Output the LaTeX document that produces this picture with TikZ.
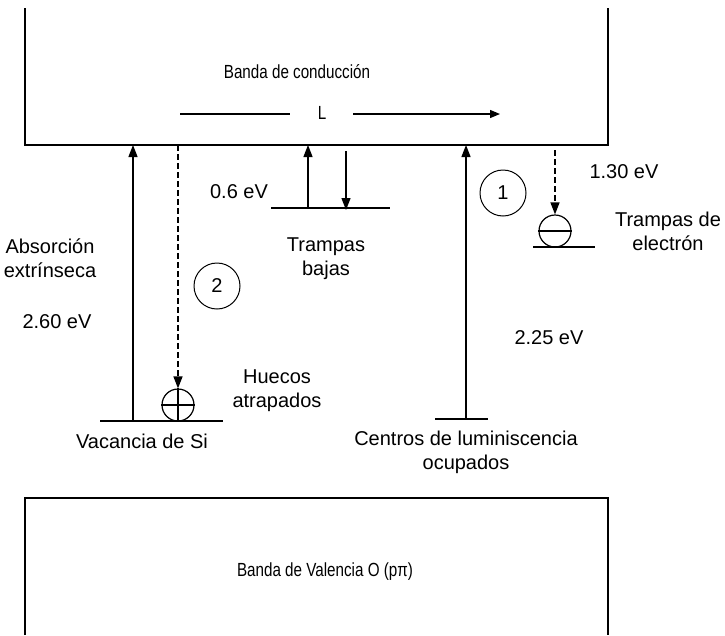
\documentclass[tikz,border=0pt]{standalone}
\usepackage{fontspec}
\setmainfont{Liberation Sans}
\newfontfamily\narrowfont[FakeStretch=0.8]{Liberation Sans}
\usetikzlibrary{arrows.meta}
\begin{document}
\begin{tikzpicture}[x=1pt,y=-1pt, line width=1.3pt,
  lbl/.style={font=\fontsize{20}{24}\selectfont, align=center, inner sep=0pt},
  bandlbl/.style={font=\narrowfont\fontsize{19}{22}\selectfont, inner sep=0pt},
  arr/.style={-{Triangle[length=12pt,width=9pt]}},
  dsh/.style={dash pattern=on 6pt off 3pt},
  num/.style={circle, draw, minimum size=46pt, inner sep=0pt, line width=1pt, font=\fontsize{20}{24}\selectfont},
  carrier/.style={circle, draw, minimum size=32pt, inner sep=0pt, line width=1.2pt}]
\useasboundingbox (0,0) rectangle (725,635);
% bands
\draw (25,8) -- (25,145) -- (608,145) -- (608,8);
\draw (25,635) -- (25,498) -- (608,498) -- (608,635);
\node[bandlbl] (cb) at (297,72) {Banda de conducción};
\node[bandlbl] (vb) at (325,572) {Banda de Valencia O (pπ)};
% L arrow
\node[bandlbl] (L) at (322,113) {L};
\coordinate (La) at (180,114);
\coordinate (Lb) at (290,114);
\coordinate (Lc) at (353,114);
\coordinate (Ld) at (500,114);
\draw (La) -- (Lb);
\draw[-{Triangle[length=10pt,width=8pt]}] (Lc) -- (Ld);
% levels
\coordinate (v1) at (100,421); \coordinate (v2) at (223,421);
\coordinate (t1) at (271,208); \coordinate (t2) at (390,208);
\coordinate (e1) at (533,247); \coordinate (e2) at (595,247);
\coordinate (c1) at (435,419); \coordinate (c2) at (488,419);
\draw (v1) -- (v2);
\draw (t1) -- (t2);
\draw (e1) -- (e2);
\draw (c1) -- (c2);
% carriers
\node[carrier] (hole) at (178,405) {};
\draw[line width=1.2pt] (hole.north) -- (hole.south) (hole.west) -- (hole.east);
\node[carrier] (elec) at (555,231) {};
\draw[line width=1.2pt] (elec.west) -- (elec.east);
% arrows
\coordinate (absb) at (133,421); \coordinate (abst) at (133,145);
\draw[arr] (absb) -- (abst);
\coordinate (d2t) at (178,145);
\draw[arr,dsh] (d2t) -- (hole.north);
\coordinate (tub) at (308,208); \coordinate (tut) at (308,145);
\draw[arr] (tub) -- (tut);
\coordinate (tdt) at (346,151); \coordinate (tdb) at (346,210);
\draw[arr] (tdt) -- (tdb);
\coordinate (lub) at (466,419); \coordinate (lut) at (466,145);
\draw[arr] (lub) -- (lut);
\coordinate (d1t) at (555,150);
\draw[arr,dsh] (d1t) -- (elec.north);
% numbered circles
\node[num] (n1) at (503,193) {1};
\node[num] (n2) at (217,286) {2};
% labels
\node[lbl] (abs) at (50,258) {Absorción\\extrínseca};
\node[lbl] (e260) at (57,322) {2.60 eV};
\node[lbl] (vac) at (142,441) {Vacancia de Si};
\node[lbl] (hue) at (277,391) {Huecos\\atrapados};
\node[lbl] (tb) at (326,259) {Trampas\\bajas};
\node[lbl] (e06) at (239,192) {0.6 eV};
\node[lbl] (e130) at (624,172) {1.30 eV};
\node[lbl] (te) at (668,231) {Trampas de\\electrón};
\node[lbl] (e225) at (549,338) {2.25 eV};
\node[lbl] (cl) at (466,452) {Centros de luminiscencia\\ocupados};
\end{tikzpicture}
\end{document}
